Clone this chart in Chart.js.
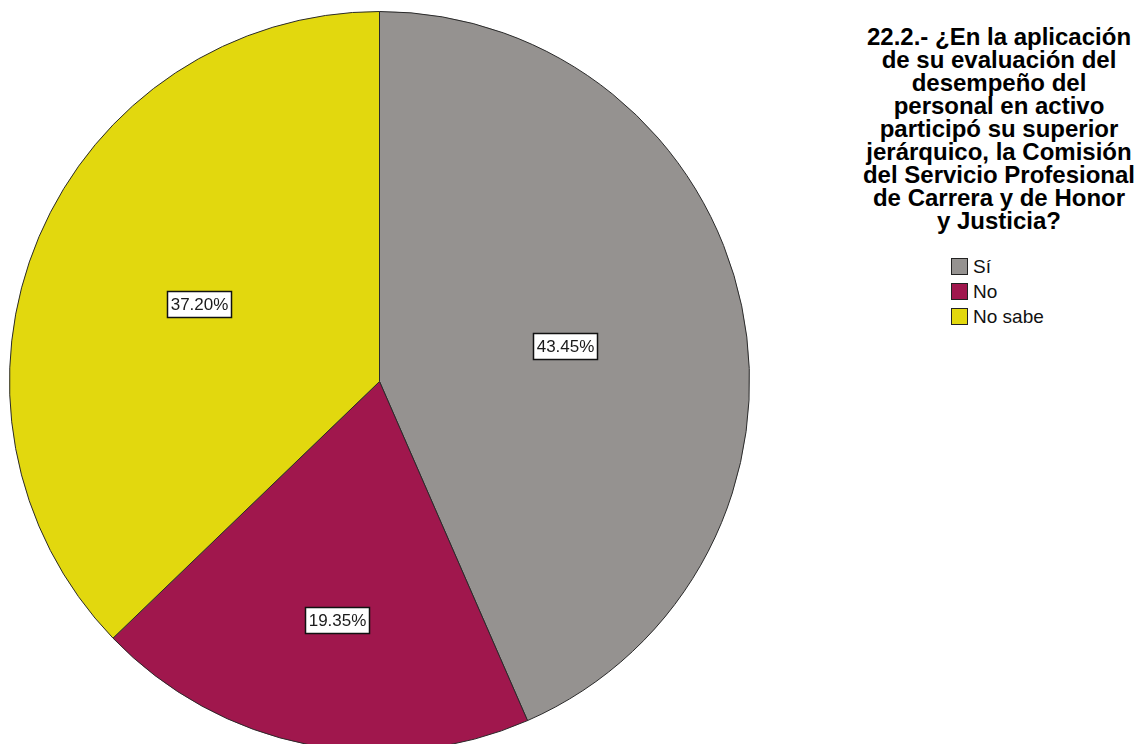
<!DOCTYPE html>
<html>
<head>
<meta charset="utf-8">
<script src="https://cdn.jsdelivr.net/npm/chart.js@4/dist/chart.umd.min.js"></script>
<style>
  html, body { margin:0; padding:0; background:#fff; width:1140px; height:744px; overflow:hidden; }
  #pieWrap { position:absolute; left:9px; top:11px; width:741px; height:741px; }
  #title { position:absolute; left:859px; top:25px; width:280px; text-align:center;
           font-family:"Liberation Sans", Arial, sans-serif; font-weight:bold; font-size:24px;
           line-height:23px; color:#000; }
  #legend { position:absolute; left:951px; top:254px; font-family:"Liberation Sans", Arial, sans-serif;
            font-size:19px; color:#111; }
  .row { display:flex; align-items:center; height:25px; }
  .sw { width:15px; height:15px; border:1px solid #222; margin-right:5px; box-sizing:content-box; }
</style>
</head>
<body>
<div id="pieWrap"><canvas id="c" width="741" height="741"></canvas></div>
<div id="title"></div>
<div id="legend"></div>
<script>
const titleLines = ["22.2.- ¿En la aplicación","de su evaluación del","desempeño del","personal en activo","participó su superior","jerárquico, la Comisión","del Servicio Profesional","de Carrera y de Honor","y Justicia?"];
const categories = ["Sí", "No", "No sabe"];
const percentages = [43.45, 19.35, 37.20];
const colors = ["#959290", "#a0174d", "#e2d80e"];

document.getElementById('title').innerHTML = titleLines.join('<br>');
const lg = document.getElementById('legend');
categories.forEach((c, i) => {
  const r = document.createElement('div'); r.className = 'row';
  const s = document.createElement('div'); s.className = 'sw'; s.style.background = colors[i];
  const t = document.createElement('span'); t.textContent = c;
  r.appendChild(s); r.appendChild(t); lg.appendChild(r);
});

const labelPlugin = {
  id: 'boxLabels',
  afterDatasetsDraw(chart) {
    const ctx = chart.ctx;
    const meta = chart.getDatasetMeta(0);
    ctx.save();
    ctx.font = '17px "Liberation Sans", Arial, sans-serif';
    ctx.textAlign = 'center';
    ctx.textBaseline = 'middle';
    meta.data.forEach((arc, i) => {
      const p = arc.getProps(['x','y','startAngle','endAngle','outerRadius'], true);
      const theta = p.endAngle - p.startAngle;
      const mid = (p.startAngle + p.endAngle) / 2;
      const d = 1.04 * 4 * p.outerRadius * Math.sin(theta / 2) / (3 * theta);
      const cx = p.x + Math.cos(mid) * d + 5;
      const cy = p.y + Math.sin(mid) * d + 2;
      const txt = percentages[i].toFixed(2) + '%';
      const w = Math.round(ctx.measureText(txt).width + 6);
      const h = 26;
      const x0 = Math.round(cx - w / 2) + 0.5, y0 = Math.round(cy - h / 2) + 0.5;
      ctx.fillStyle = '#fff';
      ctx.fillRect(x0, y0, w, h);
      ctx.strokeStyle = '#111';
      ctx.lineWidth = 1.5;
      ctx.strokeRect(x0, y0, w, h);
      ctx.fillStyle = '#1a1a1a';
      ctx.fillText(txt, x0 + w / 2, y0 + h / 2 + 1);
    });
    ctx.restore();
  }
};

new Chart(document.getElementById('c'), {
  type: 'pie',
  data: {
    labels: categories,
    datasets: [{
      data: percentages,
      backgroundColor: colors,
      borderColor: '#2a2a2a',
      borderWidth: 1
    }]
  },
  options: {
    responsive: false,
    animation: false,
    devicePixelRatio: 1,
    layout: { padding: 0 },
    plugins: { legend: { display: false }, tooltip: { enabled: false }, title: { display: false } }
  },
  plugins: [labelPlugin]
});
</script>
</body>
</html>
